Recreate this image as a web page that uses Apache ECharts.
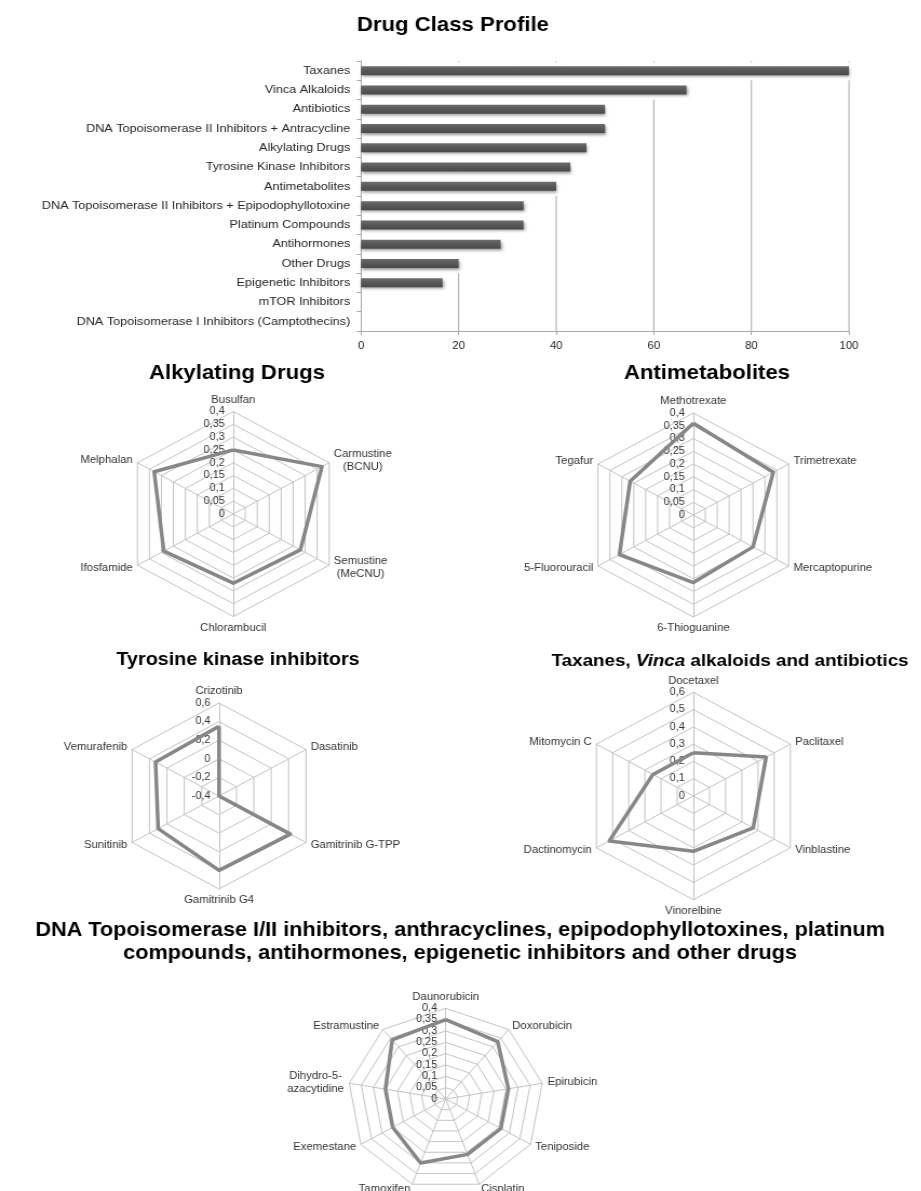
<!DOCTYPE html>
<html>
<head>
<meta charset="utf-8">
<title>Drug Class Profile</title>
<script src="https://cdn.jsdelivr.net/npm/echarts@6/dist/echarts.min.js"></script>
<style>
  html, body { margin: 0; padding: 0; background: #fff; overflow: hidden; }
  /* the whole figure is drawn slightly narrow and widened horizontally */
  #chart { width: 853px; height: 1191px; transform: scaleX(1.08); transform-origin: 0 0; }
</style>
</head>
<body>
<div id="chart"></div>
<script>
// ---- Drug class profile (bar chart) ----
const classNames = [
  'Taxanes',
  'Vinca Alkaloids',
  'Antibiotics',
  'DNA Topoisomerase II Inhibitors + Antracycline',
  'Alkylating Drugs',
  'Tyrosine Kinase Inhibitors',
  'Antimetabolites',
  'DNA Topoisomerase II Inhibitors + Epipodophyllotoxine',
  'Platinum Compounds',
  'Antihormones',
  'Other Drugs',
  'Epigenetic Inhibitors',
  'mTOR Inhibitors',
  'DNA Topoisomerase I Inhibitors (Camptothecins)'
];
const classScores = [100, 66.7, 50, 50, 46.2, 42.9, 40, 33.3, 33.3, 28.6, 20, 16.7, 0, 0];
const classTicks = [20, 40, 60, 80, 100];

// ---- Radar profiles (axes listed clockwise from the top) ----
const alkylatingDrugs = ['Busulfan', 'Carmustine\n(BCNU)', 'Semustine\n(MeCNU)', 'Chlorambucil', 'Ifosfamide', 'Melphalan'];
const alkylatingScores = [0.25, 0.37, 0.28, 0.27, 0.29, 0.33];

const antimetaboliteDrugs = ['Methotrexate', 'Trimetrexate', 'Mercaptopurine', '6-Thioguanine', '5-Fluorouracil', 'Tegafur'];
const antimetaboliteScores = [0.36, 0.335, 0.25, 0.265, 0.31, 0.265];

const tkiDrugs = ['Crizotinib', 'Dasatinib', 'Gamitrinib G-TPP', 'Gamitrinib G4', 'Sunitinib', 'Vemurafenib'];
const tkiScores = [0.35, -0.4, 0.42, 0.40, 0.30, 0.33];

const taxaneDrugs = ['Docetaxel', 'Paclitaxel', 'Vinblastine', 'Vinorelbine', 'Dactinomycin', 'Mitomycin C'];
const taxaneScores = [0.25, 0.45, 0.37, 0.32, 0.52, 0.25];

const otherDrugs = ['Daunorubicin', 'Doxorubicin', 'Epirubicin', 'Teniposide', 'Cisplatin', 'Tamoxifen', 'Exemestane', 'Dihydro-5-\nazacytidine', 'Estramustine'];
const otherScores = [0.35, 0.33, 0.26, 0.26, 0.26, 0.30, 0.25, 0.25, 0.34];

const FONT = '"Liberation Sans", Arial, Helvetica, sans-serif';
const GRID_GREY = '#a8a8a8';
const RING_GREY = '#c4c4c4';

// ECharts lays radar axes out counter-clockwise; keep the first, reverse the rest
const clockwise = arr => [arr[0]].concat(arr.slice(1).reverse());

const commaNumber = v => String(+Number(v).toFixed(2)).replace('.', ',');

function radarBlock(cx, cy, r, names, min, max, splitNumber) {
  const ind = clockwise(names).map((n, i) => {
    const o = { name: n, min: min, max: max };
    if (i === 0) {
      o.axisLabel = {
        show: true, fontSize: 10, color: '#333', fontFamily: FONT, margin: 8,
        formatter: commaNumber
      };
    }
    return o;
  });
  return {
    center: [cx, cy],
    radius: r,
    startAngle: 90,
    shape: 'polygon',
    splitNumber: splitNumber,
    indicator: ind,
    axisName: {
      color: '#333',
      fontSize: 10.5,
      fontFamily: FONT,
      formatter: name => name.split('\n').map(s => '{c|' + s + '}').join('\n'),
      rich: { c: { align: 'center', fontSize: 10.5, fontFamily: FONT, color: '#333', lineHeight: 13 } }
    },
    nameGap: 5,
    axisLabel: { show: false },
    axisTick: { show: false },
    axisLine: { lineStyle: { color: RING_GREY, width: 1 } },
    splitLine: { lineStyle: { color: RING_GREY, width: 1 } },
    splitArea: { show: false }
  };
}

function radarSeries(idx, values) {
  return {
    type: 'radar',
    radarIndex: idx,
    symbol: 'none',
    silent: true,
    lineStyle: { color: '#878787', width: 3.5 },
    data: [{ value: clockwise(values) }]
  };
}

// index of the lowest bar that reaches each grid value; the grid line starts below it
const gridRuns = classTicks.map(t => {
  let last = -1;
  classScores.forEach((v, i) => { if (v >= t) last = i; });
  return [t, last];
});

const title = (x, y, text, size, extra) => ({
  type: 'text', x: x, y: y, silent: true,
  style: Object.assign({
    text: text,
    font: 'bold ' + size + 'px ' + FONT,
    fill: '#000',
    textAlign: 'center',
    textVerticalAlign: 'middle'
  }, extra || {})
});

const option = {
  animation: false,
  backgroundColor: '#ffffff',
  graphic: [
    title(419.4, 25, 'Drug Class Profile', 20.5),
    title(219.4, 373, 'Alkylating Drugs', 20.5),
    title(654.6, 373, 'Antimetabolites', 20.5),
    title(220.4, 660, 'Tyrosine kinase inhibitors', 18.3),
    title(676, 661, '{b|Taxanes, }{i|Vinca}{b| alkaloids and antibiotics}', 17.4, {
      rich: {
        b: { font: 'bold 17.4px ' + FONT, fill: '#000' },
        i: { font: 'italic bold 17.4px ' + FONT, fill: '#000' }
      }
    }),
    title(426, 930, 'DNA Topoisomerase I/II inhibitors, anthracyclines, epipodophyllotoxines, platinum', 20.1),
    title(426, 953, 'compounds, antihormones, epigenetic inhibitors and other drugs', 20.1)
  ],
  grid: [{ left: 334.3, right: 66.9, top: 61, height: 270, containLabel: false }],
  xAxis: [{
    type: 'value', min: 0, max: 100, interval: 20,
    axisLine: { show: true, lineStyle: { color: GRID_GREY } },
    axisTick: { show: true, length: 4, lineStyle: { color: GRID_GREY } },
    axisLabel: { fontSize: 10.5, color: '#222', fontFamily: FONT, margin: 10 },
    splitLine: { show: false }
  }],
  yAxis: [{
    type: 'category', inverse: true, data: classNames,
    axisLine: { show: true, lineStyle: { color: GRID_GREY } },
    axisTick: { show: true, length: 4, lineStyle: { color: GRID_GREY } },
    axisLabel: { fontSize: 11.7, color: '#262626', fontFamily: FONT, margin: 10 },
    splitLine: { show: false }
  }],
  radar: [
    radarBlock(216, 514, 102.5, alkylatingDrugs, 0, 0.4, 8),
    radarBlock(642, 515, 102, antimetaboliteDrugs, 0, 0.4, 8),
    radarBlock(202.8, 796, 93, tkiDrugs, -0.4, 0.6, 5),
    radarBlock(642, 796, 103.7, taxaneDrugs, 0, 0.6, 6),
    radarBlock(412.7, 1099, 90.7, otherDrugs, 0, 0.4, 8)
  ],
  series: [
    {
      type: 'custom',
      silent: true,
      z: 1,
      xAxisIndex: 0, yAxisIndex: 0,
      encode: { x: 0, y: 1 },
      data: gridRuns,
      renderItem: function (params, api) {
        const t = api.value(0);
        const last = api.value(1);
        const band = api.size([0, 1])[1];
        const x = api.coord([t, 0])[0];
        const yTop = api.coord([t, 0])[1] - band / 2;
        const yStart = api.coord([t, last])[1] + band / 2;
        const yEnd = api.coord([t, classNames.length - 1])[1] + band / 2;
        return {
          type: 'group',
          children: [
            { type: 'line', shape: { x1: x, y1: yStart, x2: x, y2: yEnd }, style: { stroke: GRID_GREY, lineWidth: 1 } },
            { type: 'line', shape: { x1: x, y1: yTop, x2: x, y2: yTop + 1.5 }, style: { stroke: '#bdbdbd', lineWidth: 1 } }
          ]
        };
      }
    },
    {
      type: 'bar',
      z: 2,
      silent: true,
      barWidth: 9,
      data: classScores,
      itemStyle: {
        color: new echarts.graphic.LinearGradient(0, 0, 0, 1, [
          { offset: 0, color: '#6d6d6d' },
          { offset: 0.5, color: '#575757' },
          { offset: 1, color: '#4a4a4a' }
        ]),
        shadowColor: 'rgba(0,0,0,0.4)',
        shadowBlur: 3,
        shadowOffsetX: 1,
        shadowOffsetY: 2
      }
    },
    radarSeries(0, alkylatingScores),
    radarSeries(1, antimetaboliteScores),
    radarSeries(2, tkiScores),
    radarSeries(3, taxaneScores),
    radarSeries(4, otherScores)
  ]
};

const chart = echarts.init(document.getElementById('chart'), null, { renderer: 'canvas' });
chart.setOption(option);
</script>
</body>
</html>
